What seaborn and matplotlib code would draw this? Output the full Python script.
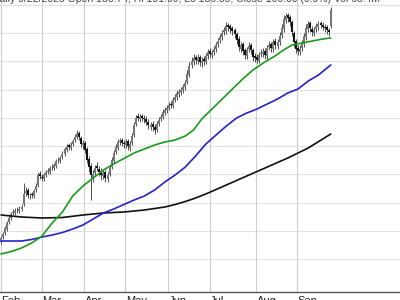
import numpy as np
import pandas as pd
import seaborn as sns
import matplotlib
matplotlib.use("Agg")
import matplotlib.pyplot as plt
import matplotlib.transforms as mtrans

# ---------------- data (price units are arbitrary; y-axis labels are cropped) ----------------
opens = [58, 63, 67, 71, 78, 82, 87, 87, 90, 89, 91, 96, 107, 110, 104, 106, 104, 110, 115, 126,
         123, 121, 125, 128, 128, 133, 132, 134, 140, 139, 143, 146, 150, 155, 152, 156, 160, 163, 167, 162,
         155, 157, 151, 141, 134, 122, 127, 134, 131, 129, 124, 128, 121, 126, 133, 139, 148, 152, 158, 160,
         157, 155, 159, 152, 157, 165, 176, 184, 181, 184, 182, 181, 178, 173, 176, 173, 170, 176, 181, 183,
         187, 190, 192, 196, 194, 200, 203, 206, 208, 210, 213, 218, 225, 235, 238, 243, 239, 243, 237, 241,
         238, 244, 249, 245, 248, 251, 256, 260, 263, 268, 269, 275, 274, 272, 270, 266, 261, 251, 256, 250,
         244, 251, 255, 250, 244, 243, 239, 246, 246, 249, 244, 253, 256, 251, 259, 254, 258, 265, 271, 280,
         285, 283, 278, 267, 259, 252, 248, 252, 256, 263, 271, 277, 271, 267, 271, 273, 277, 275, 273, 273,
         270, 274]
closes = [62, 66, 72, 77, 82, 86, 88, 89, 90, 91, 93, 106, 109, 105, 104, 105, 109, 114, 125, 124,
          122, 125, 128, 129, 132, 133, 135, 139, 140, 142, 146, 151, 153, 153, 155, 159, 163, 166, 163, 156,
          157, 150, 140, 133, 125, 126, 132, 132, 128, 125, 127, 122, 125, 132, 140, 147, 153, 158, 159, 157,
          156, 158, 154, 156, 164, 175, 182, 182, 183, 182, 181, 178, 175, 175, 173, 170, 176, 180, 183, 188,
          190, 192, 195, 195, 200, 203, 207, 208, 210, 213, 217, 226, 234, 239, 242, 240, 242, 238, 239, 239,
          244, 248, 246, 247, 251, 255, 259, 263, 267, 270, 274, 273, 271, 269, 266, 260, 253, 255, 249, 245,
          250, 254, 250, 243, 242, 240, 245, 247, 248, 245, 252, 255, 252, 258, 255, 258, 264, 272, 281, 284,
          282, 278, 268, 258, 251, 249, 251, 257, 264, 272, 276, 272, 268, 270, 274, 276, 275, 273, 272, 270,
          268, 290]
highs = [64, 68, 74, 79, 84, 88, 91, 92, 93, 94, 96, 117, 113, 112, 107, 108, 111, 117, 128, 129,
         126, 127, 130, 132, 134, 136, 137, 141, 143, 144, 149, 153, 156, 157, 158, 161, 166, 170, 169, 164,
         160, 159, 153, 144, 137, 130, 135, 138, 134, 132, 131, 130, 128, 135, 143, 150, 156, 161, 162, 162,
         160, 161, 161, 159, 167, 178, 185, 187, 186, 186, 185, 184, 181, 178, 179, 176, 179, 183, 186, 191,
         193, 195, 198, 199, 203, 206, 210, 211, 213, 216, 220, 230, 238, 243, 246, 245, 246, 245, 243, 244,
         247, 251, 252, 250, 254, 258, 262, 266, 270, 273, 278, 277, 276, 274, 272, 268, 264, 258, 258, 252,
         253, 258, 257, 252, 247, 246, 248, 251, 252, 252, 255, 259, 258, 261, 262, 261, 268, 276, 285, 287,
         287, 285, 280, 269, 261, 255, 255, 260, 267, 276, 279, 279, 274, 273, 277, 279, 279, 278, 276, 275,
         272, 293]
lows = [56, 61, 65, 69, 76, 80, 85, 85, 87, 87, 89, 94, 104, 102, 101, 102, 102, 108, 113, 121,
        119, 119, 123, 126, 126, 130, 130, 132, 137, 137, 141, 144, 148, 150, 150, 154, 158, 161, 160, 153,
        151, 147, 137, 128, 100, 118, 124, 129, 124, 120, 121, 118, 118, 124, 131, 137, 146, 150, 155, 154,
        152, 152, 150, 149, 155, 163, 174, 179, 178, 179, 177, 175, 171, 170, 169, 166, 168, 174, 179, 181,
        185, 187, 190, 192, 192, 198, 200, 203, 205, 207, 210, 216, 223, 232, 235, 236, 236, 234, 233, 235,
        236, 241, 243, 242, 245, 248, 253, 257, 260, 265, 266, 269, 267, 265, 262, 256, 249, 248, 245, 241,
        241, 248, 246, 239, 238, 237, 237, 243, 243, 241, 241, 250, 248, 248, 251, 251, 255, 262, 268, 277,
        278, 274, 264, 253, 247, 245, 245, 249, 253, 260, 268, 268, 264, 264, 268, 270, 272, 270, 268, 266,
        264, 272]

# moving averages, read at sampled bar positions
ma50_idx = [0, 5, 10, 15, 20, 25, 30, 35, 40, 45, 50, 55, 60, 65, 70, 75, 80, 85, 90, 94,
            98, 103, 108, 113, 118, 123, 128, 133, 138, 142, 147, 152, 157, 161]
ma50_val = [46, 48.5, 52, 57, 64, 77, 88, 104, 114, 122, 130, 136, 141.5, 147, 151, 155, 158, 160, 164, 170,
            181, 191, 201, 211, 221, 230, 237, 243, 250, 255, 257, 259, 261, 262]
ma100_idx = [0, 5, 10, 15, 20, 25, 30, 35, 40, 45, 50, 55, 60, 65, 70, 75, 80, 85, 90, 95,
             100, 105, 110, 115, 120, 125, 130, 135, 140, 145, 150, 155, 161]
ma100_val = [59, 59, 59, 60.5, 63, 65, 67.5, 71, 75, 81, 87, 91, 95.5, 100, 104, 110, 118, 125, 133, 144,
             156, 165, 174, 182, 187, 191, 196, 201, 207, 211, 219, 225, 235]
ma200_idx = [0, 10, 20, 30, 40, 50, 60, 70, 80, 85, 90, 95, 100, 110, 120, 130, 140, 150, 161]
ma200_val = [85, 83, 82, 82.5, 85, 87, 88, 90, 93, 95.5, 98.5, 102, 106, 115, 124, 133, 142, 152, 166]

month_labels = ["Feb", "Mar", "Apr", "May", "Jun", "Jul", "Aug", "Sep"]
month_pos = [0, 20, 40.6, 60.7, 81.5, 101.9, 124.7, 144.5]

header = "Daily 9/22/2023 Open 188.74, Hi 191.00, Lo 186.55, Close 190.00 (0.9%) Vol 65.4M"

# ---------------- drawing ----------------
sns.set_style("white")
plt.rcParams["font.family"] = ["Liberation Sans", "DejaVu Sans"]

fig = plt.figure(figsize=(4, 3), dpi=100)
ax = fig.add_axes([0, 8.5 / 300, 1, 1 - 8.5 / 300])

x = np.arange(len(closes))
o = np.array(opens)
c = np.array(closes)
up = c >= o

# grid
for gy in np.arange(41, 300, 28.25):
    ax.axhline(gy, color="#e2e2e2", lw=0.8, zorder=0)
for mx in month_pos:
    ax.axvline(mx, color="#cfcfcf", lw=0.8, zorder=0)

# candles
ax.vlines(x, lows, highs, color="#333333", lw=0.6, zorder=2)
ax.vlines(x[~up], o[~up], c[~up], color="#111111", lw=1.5, zorder=3)
ax.vlines(x[up], o[up], c[up], color="#777777", lw=1.5, zorder=3)

ma = pd.concat([
    pd.DataFrame({"i": ma200_idx, "v": ma200_val, "s": "MA200"}),
    pd.DataFrame({"i": ma100_idx, "v": ma100_val, "s": "MA100"}),
    pd.DataFrame({"i": ma50_idx, "v": ma50_val, "s": "MA50"}),
])
sns.lineplot(data=ma, x="i", y="v", hue="s",
             palette={"MA200": "#111111", "MA100": "#2323c8", "MA50": "#1c9a1c"},
             lw=1.2, legend=False, ax=ax, zorder=4)

ax.set_xlim(-0.5, 194.8)
ax.set_ylim(8.5, 300)
ax.set_xlabel("")
ax.set_ylabel("")
ax.set_yticks([])
ax.set_xticks(month_pos)
ax.set_xticklabels(month_labels, fontsize=8, color="#222222", ha="left")
ax.tick_params(axis="x", direction="out", length=3, width=0.8, color="#666666", pad=0.5)
offset = mtrans.ScaledTranslation(0.5 / 100, 0, fig.dpi_scale_trans)
for lab in ax.get_xticklabels():
    lab.set_transform(lab.get_transform() + offset)

for s in ["top", "left", "right"]:
    ax.spines[s].set_visible(False)
ax.spines["bottom"].set_color("#555555")
ax.spines["bottom"].set_linewidth(1.0)

fig.text(-0.02, 1 - 1.5 / 300, header, fontsize=7.5, color="#444444", ha="left", va="baseline")

fig.savefig("out.png", dpi=100)
